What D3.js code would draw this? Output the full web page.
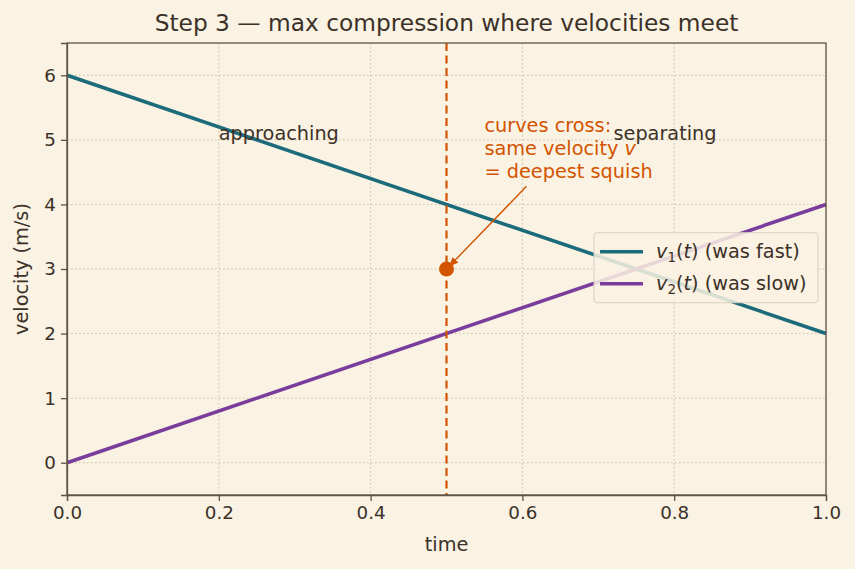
<!DOCTYPE html>
<meta charset="UTF-8">
<style>
body { margin: 0; background: #faf2e3; }
text { font-family: "DejaVu Sans", sans-serif; fill: #3b3128; }
.grid line { stroke: #c9bda8; stroke-width: 1; stroke-dasharray: 1.5,2.5; }
.axis path, .axis line { stroke: #5e5446; stroke-width: 1.3; }
</style>
<body>
<script src="https://d3js.org/d3.v7.min.js"></script>
<script>

var timeVals = [0, 1];
var v1Vals = [6, 2];
var v2Vals = [0, 4];
var xTicks = [0, 0.2, 0.4, 0.6, 0.8, 1.0];
var yTicks = [0, 1, 2, 3, 4, 5, 6];
var meetT = 0.5, meetV = 3;
var seriesNames = ["v1", "v2"];
var legendTexts = ["(was fast)", "(was slow)"];
var annotLines = ["curves cross:", "same velocity v", "= deepest squish"];

var W = 855, H = 569;
var margin = {top: 43, right: 29, bottom: 74, left: 67};
var w = W - margin.left - margin.right,
    h = H - margin.top - margin.bottom;
var fs = "19.3px";

var svg = d3.select("body").append("svg")
    .attr("width", W).attr("height", H)
    .style("background", "#faf2e3");

var g = svg.append("g")
    .attr("transform", "translate(" + margin.left + "," + margin.top + ")");

var x = d3.scaleLinear().domain([0, 1]).range([0, w]);
var y = d3.scaleLinear().domain([-0.5, 6.5]).range([h, 0]);

// grid
g.append("g").attr("class", "grid")
  .selectAll("line").data(xTicks).enter().append("line")
    .attr("x1", d => x(d)).attr("x2", d => x(d))
    .attr("y1", 0).attr("y2", h);
g.append("g").attr("class", "grid")
  .selectAll("line").data(yTicks).enter().append("line")
    .attr("x1", 0).attr("x2", w)
    .attr("y1", d => y(d)).attr("y2", d => y(d));

var line = d3.line().x(d => x(d[0])).y(d => y(d[1]));
var colors = ["#1b6b7b", "#7a3d9c"];
var series = [v1Vals, v2Vals].map(vals => timeVals.map((t, i) => [t, vals[i]]));

series.forEach(function(s, i) {
  g.append("path").datum(s)
    .attr("d", line)
    .attr("fill", "none")
    .attr("stroke", colors[i])
    .attr("stroke-width", 3.6);
});

// dashed meet line
g.append("line")
  .attr("x1", x(meetT)).attr("x2", x(meetT))
  .attr("y1", 0).attr("y2", h)
  .attr("stroke", "#d35400").attr("stroke-width", 2.2)
  .attr("stroke-dasharray", "8,4.5");

g.append("circle")
  .attr("cx", x(meetT)).attr("cy", y(meetV)).attr("r", 7.5)
  .attr("fill", "#d35400");

// region labels
g.append("text").attr("x", x(0.2)).attr("y", y(5))
  .style("font-size", fs).text("approaching");
g.append("text").attr("x", x(0.72)).attr("y", y(5))
  .style("font-size", fs).text("separating");

// annotation
svg.append("defs").append("marker")
  .attr("id", "arr").attr("viewBox", "0 0 10 10")
  .attr("refX", 9).attr("refY", 5)
  .attr("markerWidth", 7).attr("markerHeight", 7)
  .attr("orient", "auto")
  .append("path").attr("d", "M0,1 L10,5 L0,9 z").attr("fill", "#d35400");

var ax0 = x(0.55) + 42, ay0 = y(4.28);
g.append("line")
  .attr("x1", ax0).attr("y1", ay0)
  .attr("x2", x(meetT) + 3).attr("y2", y(meetV) - 3)
  .attr("stroke", "#d35400").attr("stroke-width", 1.4)
  .attr("marker-end", "url(#arr)");

var at = g.append("text")
  .attr("x", x(0.55)).attr("y", y(5.0) - 8)
  .style("font-size", fs);
annotLines.forEach(function(l, i) {
  var ts = at.append("tspan")
    .attr("x", x(0.55)).attr("dy", i === 0 ? 0 : 23)
    .style("fill", "#d35400");
  if (i === 1) {
    ts.text("same velocity ");
    ts.append("tspan").style("font-style", "italic").style("fill", "#d35400").text("v");
  } else {
    ts.text(l);
  }
});

// axes
var xAxis = g.append("g").attr("class", "axis")
  .attr("transform", "translate(0," + h + ")")
  .call(d3.axisBottom(x).tickValues(xTicks).tickFormat(d3.format(".1f")).tickSizeOuter(0).tickSize(6).tickPadding(5));
var yAxis = g.append("g").attr("class", "axis")
  .call(d3.axisLeft(y).tickValues(yTicks).tickFormat(d3.format("d")).tickSizeOuter(0).tickSize(6).tickPadding(5));
g.selectAll(".axis text")
  .style("font-size", "18.3px").style("font-family", "DejaVu Sans, sans-serif")
  .style("fill", "#3b3128");

// frame
g.append("rect").attr("width", w).attr("height", h)
  .attr("fill", "none").attr("stroke", "#5e5446").attr("stroke-width", 1.3);

// labels
svg.append("text").attr("x", margin.left + w / 2).attr("y", 551)
  .attr("text-anchor", "middle").style("font-size", fs).text("time");
svg.append("text")
  .attr("transform", "translate(28," + (margin.top + h / 2) + ") rotate(-90)")
  .attr("text-anchor", "middle").style("font-size", fs).text("velocity (m/s)");
svg.append("text").attr("x", margin.left + w / 2).attr("y", 31)
  .attr("text-anchor", "middle").style("font-size", "23.3px").text("Step 3 — max compression where velocities meet");

// legend
var lg = g.append("g").attr("transform", "translate(" + (w - 232) + "," + (y(3.5) - 4) + ")");
lg.append("rect").attr("width", 224).attr("height", 70).attr("rx", 3)
  .attr("fill", "#faf2e3").attr("fill-opacity", 0.85)
  .attr("stroke", "#d8d0c2").attr("stroke-width", 1);
seriesNames.forEach(function(n, i) {
  var yy = 19 + i * 32;
  lg.append("line").attr("x1", 6).attr("x2", 49).attr("y1", yy).attr("y2", yy)
    .attr("stroke", colors[i]).attr("stroke-width", 3.6);
  var t = lg.append("text").attr("x", 62).attr("y", yy + 6).style("font-size", fs);
  t.append("tspan").style("font-style", "italic").text("v");
  t.append("tspan").attr("dy", 4).style("font-size", "13.5px").text(String(i + 1));
  t.append("tspan").attr("dy", -4).text("(");
  t.append("tspan").style("font-style", "italic").text("t");
  t.append("tspan").text(") " + legendTexts[i]);
});

</script>
</body>
